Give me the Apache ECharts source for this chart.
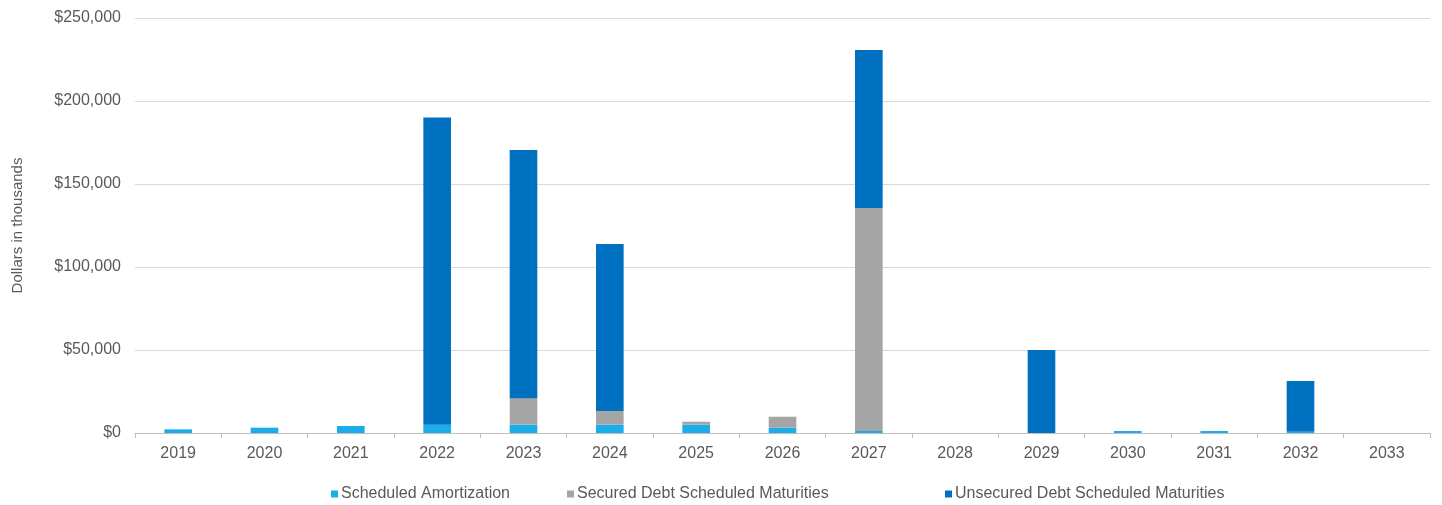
<!DOCTYPE html>
<html><head><meta charset="utf-8">
<script src="https://cdn.jsdelivr.net/npm/echarts@6/dist/echarts.min.js"></script>
<style>html,body{margin:0;padding:0;background:#fff}#c{width:1442px;height:505px}</style>
</head><body><div id="c"></div>
<script>
const categories = ['2019','2020','2021','2022','2023','2024','2025','2026','2027','2028','2029','2030','2031','2032','2033'];
const amortization = [2200, 3200, 4200, 5000, 5000, 5000, 5000, 3200, 1200, 0, 0, 1200, 1200, 700, 0];
const securedMaturities = [0, 0, 0, 0, 16000, 8300, 1800, 6600, 134300, 0, 0, 0, 0, 0, 0];
const unsecuredMaturities = [0, 0, 0, 185000, 149500, 100600, 0, 0, 95200, 0, 50000, 0, 0, 30600, 0];
const yTicks = [0, 50000, 100000, 150000, 200000, 250000];
const seriesNames = ['Scheduled Amortization','Secured Debt Scheduled Maturities','Unsecured Debt Scheduled Maturities'];

const font = 'Liberation Sans, Arial, sans-serif';
const legendLeft = [326, 562, 940];
const chart = echarts.init(document.getElementById('c'));
chart.setOption({
  animation: false,
  grid: {left: 135, right: 12, top: 18, bottom: 72},
  legend: seriesNames.map((n, i) => ({
    top: 481, left: legendLeft[i], itemWidth: 7, itemHeight: 7, icon: 'rect', itemGap: 0,
    textStyle: {color: '#595959', fontSize: 16, fontFamily: font, padding: [0,0,0,-2]},
    data: [n]
  })),
  xAxis: {
    type: 'category', data: categories,
    axisLine: {lineStyle: {color: '#BFBFBF'}},
    axisTick: {show: true, length: 5, lineStyle: {color: '#BFBFBF'}},
    axisLabel: {color: '#595959', fontSize: 16, fontFamily: font, margin: 13}
  },
  yAxis: {
    type: 'value', min: yTicks[0], max: yTicks[yTicks.length-1], interval: 50000,
    name: 'Dollars in thousands', nameLocation: 'middle', nameGap: 110,
    nameTextStyle: {color: '#595959', fontSize: 15, fontFamily: font},
    axisLine: {show: false}, axisTick: {show: false},
    splitLine: {lineStyle: {color: '#D9D9D9'}},
    axisLabel: {color: '#595959', fontSize: 16, fontFamily: font, margin: 14,
      formatter: v => '$' + v.toLocaleString('en-US')}
  },
  series: [
    {name: seriesNames[0], type: 'bar', stack: 't', data: amortization, barWidth: '32%', itemStyle: {color: '#19AEEA'}},
    {name: seriesNames[1], type: 'bar', stack: 't', data: securedMaturities, itemStyle: {color: '#A5A5A5'}},
    {name: seriesNames[2], type: 'bar', stack: 't', data: unsecuredMaturities, itemStyle: {color: '#0070C0'}}
  ]
});
</script></body></html>
